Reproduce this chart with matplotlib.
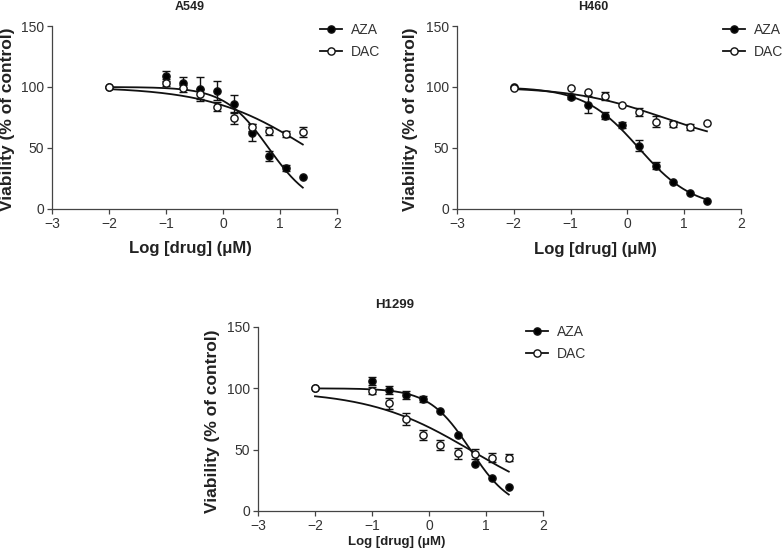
import numpy as np
import matplotlib
matplotlib.use('Agg')
import matplotlib.pyplot as plt
from matplotlib.lines import Line2D

plt.rcParams['font.family'] = ['Liberation Sans', 'DejaVu Sans']

# ---------------- data ----------------
log_dose = [-2.0, -1.0, -0.7, -0.4, -0.1, 0.2, 0.5, 0.8, 1.1, 1.4]

a549_aza = [100, 109, 103.5, 98.5, 97, 86, 62.5, 43.5, 33.5, 26.5]
a549_aza_err = [0, 4, 4.5, 10, 8, 7.5, 7, 4, 2.5, 0]
a549_dac = [100, 103.5, 99, 94.5, 84, 74.5, 67, 64, 61.5, 63]
a549_dac_err = [0, 3, 3, 4, 4, 5, 3, 3, 2.5, 4]

h460_aza = [100, 92, 85.5, 76.5, 68.5, 52, 35.5, 22, 13.5, 6.5]
h460_aza_err = [0, 2, 7, 3, 2.5, 4.5, 3, 0, 0, 0]
h460_dac = [99, 99.5, 96, 92.5, 85, 79.5, 71.5, 69.5, 67.5, 70.5]
h460_dac_err = [0, 0, 0, 3, 0, 3, 4.5, 2.5, 2.5, 0]

h1299_aza = [100, 106, 98.5, 94.5, 91, 81.5, 62, 38, 27, 19.5]
h1299_aza_err = [0, 3.5, 3.5, 3, 2.5, 0, 0, 0, 0, 0]
h1299_dac = [100, 98, 88, 75, 62, 54, 47, 46.5, 43.5, 43.5]
h1299_dac_err = [0, 3, 4.5, 5, 4, 4, 4.5, 4, 3.5, 3]

# fitted dose-response curves: (top, bottom, logIC50, hill)
a549_aza_fit = (100, 0, 0.80, 1.12)
a549_dac_fit = (100, 0, 1.50, 0.50)
h460_aza_fit = (100, 0, 0.20, 0.90)
h460_dac_fit = (100, 50, 0.63, 0.55)
h1299_aza_fit = (100, 0, 0.725, 1.20)
h1299_dac_fit = (98, 0, 0.75, 0.48)

series_names = ['AZA', 'DAC']
panel_titles = ['A549', 'H460', 'H1299']
x_ticks = [-3, -2, -1, 0, 1, 2]
y_ticks = [0, 50, 100, 150]

# ---------------- drawing ----------------
W, H = 783, 555
fig = plt.figure(figsize=(W / 100, H / 100), dpi=100)

def fig_rect(x0, x1, y0, y1):
    return [x0 / W, 1 - y1 / H, (x1 - x0) / W, (y1 - y0) / H]

AX_COL = '#444444'
TXT_COL = '#222222'

def curve(params, xs):
    top, bottom, c, h = params
    xs = np.asarray(xs)
    return bottom + (top - bottom) / (1 + 10 ** ((xs - c) * h))

def draw_panel(rect, title, title_xy, title_fs, aza, aza_err, dac, dac_err,
               aza_fit, dac_fit, legend_xy, ylab_x, xlab_y, xlab_fs):
    ax = fig.add_axes(rect)
    x = np.array(log_dose)
    xs = np.linspace(min(log_dose), max(log_dose), 300)
    for vals, errs, fit, face in [(aza, aza_err, aza_fit, 'black'),
                                  (dac, dac_err, dac_fit, 'white')]:
        vals = np.array(vals, float)
        errs = np.array(errs, float)
        m = errs > 0
        ax.errorbar(x[m], vals[m], yerr=errs[m], fmt='none', ecolor='#111111',
                    elinewidth=1.0, capsize=2.6, capthick=1.0, zorder=2,
                    clip_on=False)
        ax.plot(xs, curve(fit, xs), color='#111111', lw=1.3, zorder=3)
        ax.plot(x, vals, 'o', ms=5.2, mfc=face, mec='#111111', mew=1.0,
                zorder=4, clip_on=False)
    ax.set_xlim(-3, 2)
    ax.set_ylim(0, 150)
    ax.set_xticks(x_ticks)
    ax.set_xticklabels(['\u22123', '\u22122', '\u22121', '0', '1', '2'])
    ax.set_yticks(y_ticks)
    for s in ['top', 'right']:
        ax.spines[s].set_visible(False)
    for s in ['left', 'bottom']:
        ax.spines[s].set_color(AX_COL)
        ax.spines[s].set_linewidth(0.9)
    ax.tick_params(direction='out', length=3.5, width=0.9, color=AX_COL,
                   labelcolor='#333333', labelsize=10, pad=2)
    ax.set_ylabel('Viability (% of control)', fontsize=12.5, fontweight='bold',
                  color=TXT_COL)
    ax.yaxis.set_label_coords(ylab_x, 0.49)
    ax.set_xlabel('Log [drug] (\u03bcM)', fontsize=xlab_fs, fontweight='bold',
                  color=TXT_COL)
    ax.xaxis.set_label_coords(0.487, xlab_y)
    fig.text(title_xy[0] / W, 1 - title_xy[1] / H, title, ha='center',
             va='center', fontsize=title_fs, fontweight='bold', color=TXT_COL)
    handles = [Line2D([], [], color='#111111', lw=1.3, marker='o', ms=5.2,
                      mfc=f, mec='#111111', mew=1.0)
               for f in ['black', 'white']]
    fig.legend(handles, series_names, loc='upper left',
               bbox_to_anchor=(legend_xy[0] / W, 1 - legend_xy[1] / H),
               frameon=False, fontsize=10, handlelength=1.6,
               handletextpad=0.6, labelspacing=0.55, borderpad=0,
               borderaxespad=0, labelcolor='#333333')
    return ax

draw_panel(fig_rect(52, 337, 26, 209), panel_titles[0], (190, 7), 9,
           a549_aza, a549_aza_err, a549_dac, a549_dac_err,
           a549_aza_fit, a549_dac_fit, (320, 23), -0.13, -0.175, 12)
draw_panel(fig_rect(457, 741, 26, 209), panel_titles[1], (593, 7), 9,
           h460_aza, h460_aza_err, h460_dac, h460_dac_err,
           h460_aza_fit, h460_dac_fit, (723, 23), -0.137, -0.18, 12)
draw_panel(fig_rect(258, 543, 327, 511), panel_titles[2], (395, 305), 9.5,
           h1299_aza, h1299_aza_err, h1299_dac, h1299_dac_err,
           h1299_aza_fit, h1299_dac_fit, (526, 325), -0.133, -0.136, 9.5)

fig.savefig('out.png', dpi=100)
